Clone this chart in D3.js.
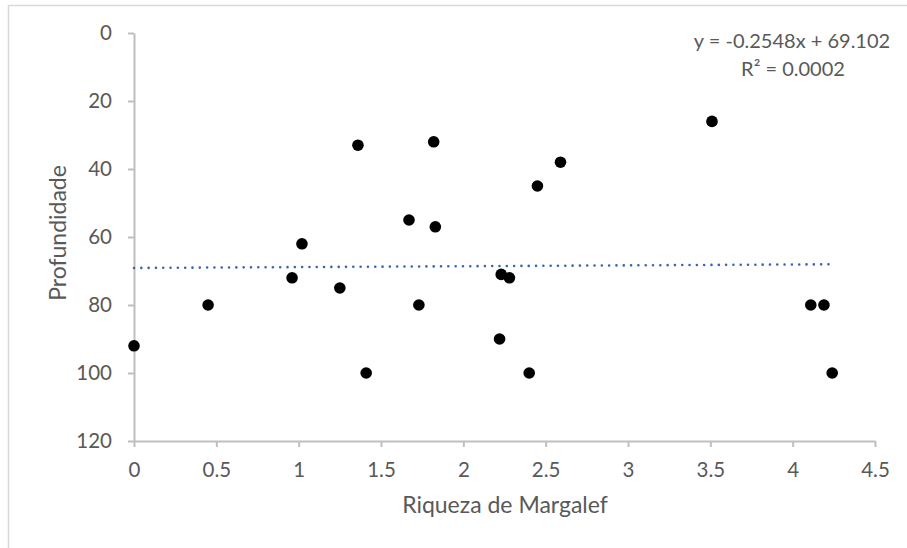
<!DOCTYPE html>
<html>
<head>
<meta charset="utf-8">
<script src="https://cdn.jsdelivr.net/npm/d3@7"></script>
<style>
  html, body { margin: 0; padding: 0; background: #fff; }
  svg { display: block; }
  text { font-family: Lato, "Open Sans", sans-serif; fill: #595959; }
</style>
</head>
<body>
<svg id="chart" width="907" height="548"></svg>
<script>
// Data
const riqueza = [0, 0.45, 0.96, 1.02, 1.25, 1.36, 1.41, 1.67, 1.73, 1.82, 1.83, 2.22, 2.23, 2.28, 2.40, 2.45, 2.59, 3.51, 4.11, 4.19, 4.24];
const profundidade = [92, 80, 72, 62, 75, 33, 100, 55, 80, 32, 57, 90, 71, 72, 100, 45, 38, 26, 80, 80, 100];
const xTicks = [0, 0.5, 1, 1.5, 2, 2.5, 3, 3.5, 4, 4.5];
const yTicks = [0, 20, 40, 60, 80, 100, 120];
const slope = -0.2548, intercept = 69.102;
const equationLabel = "y = -0.2548x + 69.102";
const r2Label = "R² = 0.0002";
const xTitle = "Riqueza de Margalef";
const yTitle = "Profundidade";

const svg = d3.select("#chart");

// chart border (top & left visible in frame)
svg.append("rect")
  .attr("x", 8.5).attr("y", 5.5)
  .attr("width", 1000).attr("height", 1000)
  .attr("fill", "none").attr("stroke", "#D9D9D9").attr("stroke-width", 1.5);

const x = d3.scaleLinear().domain([0, 4.5]).range([134, 875]);
const y = d3.scaleLinear().domain([0, 120]).range([33, 441]);

// X axis
const xAxis = svg.append("g").attr("transform", `translate(0,${y(120)})`)
  .call(d3.axisBottom(x).tickValues(xTicks).tickSize(6).tickSizeOuter(0).tickPadding(15)
    .tickFormat(d => String(d)));
// Y axis
const yAxis = svg.append("g").attr("transform", `translate(${x(0)},0)`)
  .call(d3.axisLeft(y).tickValues(yTicks).tickSize(6).tickSizeOuter(0).tickPadding(16));

[xAxis, yAxis].forEach(g => {
  g.select(".domain").attr("stroke", "#BFBFBF").attr("stroke-width", 2);
  g.selectAll(".tick line").attr("stroke", "#BFBFBF").attr("stroke-width", 2);
  g.selectAll(".tick text").attr("fill", "#595959").style("font-size", "20.5px")
    .style("font-family", "Lato, 'Open Sans', sans-serif");
});

// Trendline
const xExt = d3.extent(riqueza);
const trend = xExt.map(v => [v, slope * v + intercept]);
svg.append("path")
  .datum(trend)
  .attr("d", d3.line().x(d => x(d[0])).y(d => y(d[1])))
  .attr("fill", "none")
  .attr("stroke", "#3B64B5")
  .attr("stroke-width", 2.6)
  .attr("stroke-linecap", "round")
  .attr("stroke-dasharray", "0.01 7.3");

// Points
svg.append("g").selectAll("circle")
  .data(riqueza.map((v, i) => [v, profundidade[i]]))
  .join("circle")
  .attr("cx", d => x(d[0]))
  .attr("cy", d => y(d[1]))
  .attr("r", 5.8)
  .attr("fill", "#000");

// Equation
svg.append("text").attr("x", 792).attr("y", 48).attr("text-anchor", "middle")
  .style("font-size", "20px").text(equationLabel);
svg.append("text").attr("x", 793).attr("y", 76).attr("text-anchor", "middle")
  .style("font-size", "20px").text(r2Label);

// Axis titles
svg.append("text").attr("x", 505).attr("y", 513).attr("text-anchor", "middle")
  .style("font-size", "23px").text(xTitle);
svg.append("text")
  .attr("transform", `translate(66,${233}) rotate(-90)`)
  .attr("text-anchor", "middle")
  .style("font-size", "23px").text(yTitle);
</script>
</body>
</html>
